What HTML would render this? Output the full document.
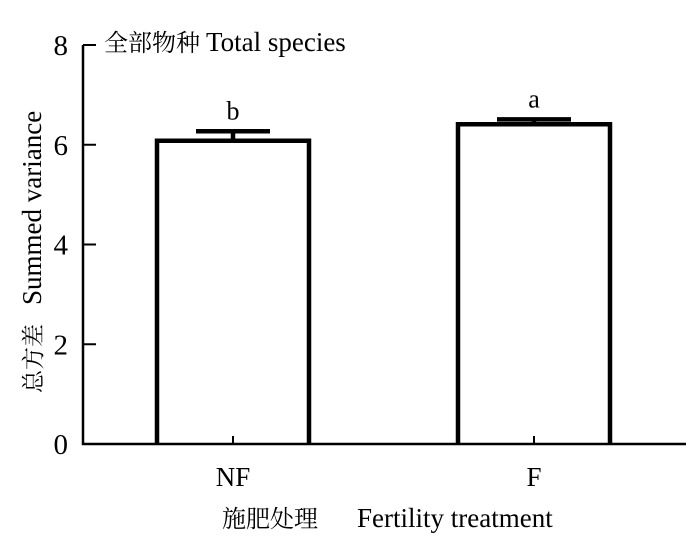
<!DOCTYPE html>
<html><head><meta charset="utf-8"><style>
body{margin:0;background:#fff}
svg text{font-family:"Liberation Serif","Noto Serif CJK SC",serif;fill:#000}
</style></head><body>
<svg width="700" height="554" id="chart"></svg>
<script>
const categories=["NF","F"];
const values=[6.08,6.41];
const errors=[0.19,0.1];
const letters=["b","a"];
const yTicks=[0,2,4,6,8];
const NS="http://www.w3.org/2000/svg";
const svg=document.getElementById('chart');
const x0=83,x1=686,y0=444,yTop=45;
const y=v=>y0-(v/8)*(y0-yTop);
const xc=i=>233+i*301;
function mk(t,a,txt){const e=document.createElementNS(NS,t);for(const k in a)e.setAttribute(k,a[k]);if(txt!==undefined)e.textContent=txt;svg.appendChild(e);return e;}
categories.forEach((c,i)=>{
 const cx=xc(i),w=152;
 const b=mk('path',{d:`M${cx-w/2} ${y0} V${y(values[i])} H${cx+w/2} V${y0}`,fill:'#fff',stroke:'#000','stroke-width':4.5});
 
 
 const e=mk('path',{d:`M${cx} ${y(values[i])} V${y(values[i]+errors[i])} M${cx-37} ${y(values[i]+errors[i])} H${cx+37}`,stroke:'#000','stroke-width':4.5,fill:'none'});
 
 
 const l=mk('text',{x:cx,y:y(values[i]+errors[i])-12,'text-anchor':'middle','font-size':26},letters[i]);
 
 
 const t=mk('line',{x1:cx,x2:cx,y1:y0,y2:y0-8,stroke:'#000','stroke-width':2});
 
 
 const tl=mk('text',{x:cx,y:486,'text-anchor':'middle','font-size':27},c);
 
 
});
yTicks.forEach(v=>{
 const t=mk('line',{x1:x0,x2:x0+13,y1:y(v),y2:y(v),stroke:'#000','stroke-width':2});
 
 
 const tl=mk('text',{x:68,y:y(v)+10,'text-anchor':'end','font-size':29},v);
 
 
});
const ax=mk('path',{d:`M${x0} ${yTop} V${y0} H${x1}`,stroke:'#000','stroke-width':2.5,fill:'none'});


const ti=mk('text',{x:104,y:51,'font-size':24});


ti.innerHTML='全部物种 <tspan font-size="27">Total species</tspan>';
const xt=mk('text',{x:222,y:527,'font-size':24});


xt.innerHTML='施肥处理 <tspan x="357" font-size="27">Fertility treatment</tspan>';
const yt=mk('text',{x:0,y:0,'font-size':23,transform:'translate(41,393) rotate(-90)'});


yt.innerHTML='总方差 <tspan x="88" font-size="27">Summed variance</tspan>';
</script>
</body></html>
